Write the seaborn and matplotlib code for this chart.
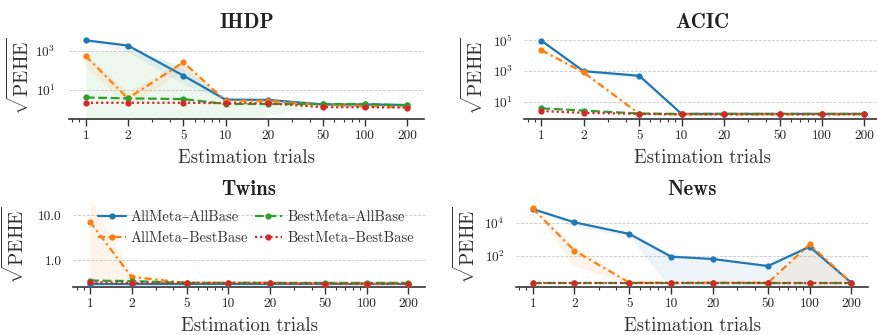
import numpy as np
import pandas as pd
import matplotlib
matplotlib.use("Agg")
import matplotlib.pyplot as plt
import seaborn as sns
from matplotlib.lines import Line2D
from matplotlib.ticker import LogLocator, NullFormatter, NullLocator

# ---------------- data ----------------
trials = [1, 2, 5, 10, 20, 50, 100, 200]
trial_labels = ["1", "2", "5", "10", "20", "50", "100", "200"]
methods = ["AllMeta–AllBase", "AllMeta–BestBase", "BestMeta–AllBase", "BestMeta–BestBase"]
datasets = ["IHDP", "ACIC", "Twins", "News"]

# IHDP
ihdp_all_all = [3500, 1900, 54, 3.2, 3.1, 1.8, 1.8, 1.7]
ihdp_all_best = [550, 3.7, 260, 2.8, 2.8, 1.7, 1.5, 1.3]
ihdp_best_all = [4.1, 3.7, 3.4, 1.9, 1.9, 1.9, 1.9, 1.6]
ihdp_best_best = [2.2, 2.2, 2.2, 2.1, 2.1, 1.3, 1.3, 1.25]
ihdp_all_all_lo = [3200, 900, 20, 2.9, 2.8, 1.6, 1.6, 1.5]
ihdp_all_all_hi = [3800, 2100, 120, 3.5, 3.5, 2.0, 2.0, 1.8]
ihdp_all_best_lo = [150, 1.5, 100, 2.5, 2.4, 1.4, 1.3, 1.1]
ihdp_all_best_hi = [700, 8, 350, 3.2, 3.2, 1.9, 1.7, 1.4]
ihdp_best_all_lo = [0.01, 0.01, 0.01, 0.01, 0.5, 1.6, 1.6, 1.4]
ihdp_best_all_hi = [950, 1000, 200, 3.0, 2.8, 2.1, 2.1, 1.8]

# ACIC
acic_all_all = [95000, 1000, 500, 1.7, 1.7, 1.7, 1.7, 1.7]
acic_all_best = [23000, 830, 1.7, 1.6, 1.6, 1.6, 1.6, 1.6]
acic_best_all = [3.9, 2.8, 1.8, 1.7, 1.7, 1.7, 1.7, 1.7]
acic_best_best = [2.6, 2.0, 1.7, 1.6, 1.6, 1.6, 1.6, 1.6]
acic_all_all_lo = [90000, 800, 300, 1.6, 1.6, 1.6, 1.6, 1.6]
acic_all_all_hi = [100000, 1100, 600, 1.8, 1.8, 1.8, 1.8, 1.8]
acic_all_best_lo = [18000, 650, 1.6, 1.5, 1.5, 1.5, 1.5, 1.5]
acic_all_best_hi = [30000, 1000, 1.8, 1.7, 1.7, 1.7, 1.7, 1.7]

# Twins
twins_all_all = [0.30, 0.30, 0.30, 0.30, 0.30, 0.30, 0.30, 0.30]
twins_all_best = [7.1, 0.42, 0.31, 0.31, 0.31, 0.30, 0.30, 0.30]
twins_best_all = [0.35, 0.34, 0.31, 0.31, 0.31, 0.31, 0.31, 0.31]
twins_best_best = [0.32, 0.31, 0.31, 0.31, 0.31, 0.30, 0.30, 0.30]
twins_all_best_lo = [0.01, 0.35, 0.30, 0.30, 0.30, 0.29, 0.29, 0.29]
twins_all_best_hi = [25, 0.5, 0.32, 0.32, 0.32, 0.31, 0.31, 0.31]

# News
news_all_all = [66000, 10500, 2100, 91, 66, 25, 360, 2.5]
news_all_best = [72000, 210, 2.5, 2.5, 2.5, 2.5, 500, 2.5]
news_best_all = [2.5, 2.5, 2.5, 2.5, 2.5, 2.5, 2.5, 2.5]
news_best_best = [2.5, 2.5, 2.5, 2.5, 2.5, 2.5, 2.5, 2.5]
news_all_all_lo = [60000, 5800, 1450, 1.0, 1.0, 1.0, 1.0, 2.3]
news_all_all_hi = [70000, 12000, 2500, 130, 75, 30, 500, 2.7]
news_all_best_lo = [65000, 23, 2.4, 2.4, 2.4, 2.4, 1.0, 2.4]
news_all_best_hi = [78000, 400, 2.6, 2.6, 2.6, 2.6, 600, 2.6]

series = {
    "IHDP": [ihdp_all_all, ihdp_all_best, ihdp_best_all, ihdp_best_best],
    "ACIC": [acic_all_all, acic_all_best, acic_best_all, acic_best_best],
    "Twins": [twins_all_all, twins_all_best, twins_best_all, twins_best_best],
    "News": [news_all_all, news_all_best, news_best_all, news_best_best],
}
bands = {
    "IHDP": {0: (ihdp_all_all_lo, ihdp_all_all_hi), 1: (ihdp_all_best_lo, ihdp_all_best_hi),
             2: (ihdp_best_all_lo, ihdp_best_all_hi)},
    "ACIC": {0: (acic_all_all_lo, acic_all_all_hi), 1: (acic_all_best_lo, acic_all_best_hi)},
    "Twins": {1: (twins_all_best_lo, twins_all_best_hi)},
    "News": {0: (news_all_all_lo, news_all_all_hi), 1: (news_all_best_lo, news_all_best_hi)},
}

# ---------------- style ----------------
sns.set_theme(style="ticks")
plt.rcParams["font.family"] = ["cmr10", "DejaVu Serif"]
plt.rcParams["mathtext.fontset"] = "cm"
plt.rcParams["axes.unicode_minus"] = False
plt.rcParams["axes.formatter.use_mathtext"] = True

colors = ["#1f77b4", "#ff7f0e", "#2ca02c", "#d62728"]
palette = dict(zip(methods, colors))
dash_map = dict(zip(methods, ["", (3.2, 1.6, 1, 1.6), (4, 1.6), (1, 1.3)]))
marker_map = {m: "o" for m in methods}

fig = plt.figure(figsize=(8.77, 3.35), dpi=100)
W, H = 877, 335
# left, top(px), width, height
layout = {
    "IHDP": (68.7, 33, 355.7, 86),
    "ACIC": (524.2, 33, 357, 86),
    "Twins": (73.1, 204, 352, 83),
    "News": (515.8, 204, 352.4, 83),
}
ylims = {
    "IHDP": (10 ** -0.49, 10 ** 3.92),
    "ACIC": (10 ** -0.1, 10 ** 5.47),
    "Twins": (10 ** -0.6, 10 ** 1.244),
    "News": (10 ** 0.14, 10 ** 5.12),
}
yticks = {
    "IHDP": ([10, 1000], [r"$10^{1}$", r"$10^{3}$"]),
    "ACIC": ([10, 1000, 1e5], [r"$10^{1}$", r"$10^{3}$", r"$10^{5}$"]),
    "Twins": ([1.0, 10.0], ["1.0", "10.0"]),
    "News": ([100, 1e4], [r"$10^{2}$", r"$10^{4}$"]),
}
ypads = {"IHDP": 9.5, "ACIC": 8, "Twins": 8, "News": 8}
ylabel_x = {"IHDP": -0.100, "ACIC": -0.104, "Twins": -0.128, "News": -0.105}
title_pad = {"IHDP": 3.7, "ACIC": 3.7, "Twins": 6.5, "News": 6.5}

for name in datasets:
    l, t, w, h = layout[name]
    ax = fig.add_axes([l / W, 1 - (t + h) / H, w / W, h / H])
    ax.set_xscale("log")
    ax.set_yscale("log")

    for i, (lo, hi) in bands[name].items():
        ax.fill_between(trials, lo, hi, color=colors[i], alpha=0.08, lw=0, zorder=1)

    df = pd.DataFrame({
        "trials": np.tile(trials, len(methods)),
        "value": np.concatenate(series[name]),
        "method": np.repeat(methods, len(trials)),
    })
    sns.lineplot(data=df, x="trials", y="value", hue="method", style="method",
                 hue_order=methods, style_order=methods, palette=palette,
                 dashes=dash_map, markers=marker_map, markersize=4.5, mew=0,
                 lw=1.6, legend=False, errorbar=None, ax=ax, zorder=3)

    ax.set_xlim(0.755, 265)
    ax.set_ylim(*ylims[name])
    ax.set_xticks(trials)
    ax.set_xticklabels(trial_labels)
    ax.xaxis.set_minor_locator(LogLocator(base=10, subs=np.arange(2, 10)))
    ax.xaxis.set_minor_formatter(NullFormatter())
    yt, yl = yticks[name]
    ax.set_yticks(yt)
    ax.set_yticklabels(yl)
    ax.yaxis.set_minor_locator(NullLocator())

    ax.tick_params(axis="x", which="major", length=5, width=1.0, color="#333333",
                   labelsize=9.6, pad=3, labelcolor="#222222")
    ax.tick_params(axis="x", which="minor", length=2.5, width=0.8, color="#333333")
    ax.tick_params(axis="y", which="major", length=0, labelsize=9.6, pad=ypads[name],
                   labelcolor="#222222")

    ax.yaxis.grid(True, which="major", ls="--", lw=0.6, color="#c8c8c8")
    ax.xaxis.grid(False)
    for s in ["left", "right", "top"]:
        ax.spines[s].set_visible(False)
    ax.spines["bottom"].set_color("#333333")
    ax.spines["bottom"].set_linewidth(1.2)

    ax.set_title(name, fontfamily="cmb10", fontsize=15, pad=title_pad[name], color="#222222")
    ax.set_xlabel("Estimation trials", fontsize=13.5, labelpad=5, color="#333333")
    ax.set_ylabel(r"$\sqrt{\mathrm{PEHE}}$", fontsize=14, color="#333333")
    ax.yaxis.set_label_coords(ylabel_x[name], 0.5)

    if name == "Twins":
        handles = [Line2D([], [], color=colors[i], marker="o", markersize=4.5, mew=0,
                          lw=1.6, ls=(0, dash_map[m]) if dash_map[m] else "-")
                   for i, m in enumerate(methods)]
        ax.legend(handles, methods, ncol=2, frameon=False, loc="upper right",
                  bbox_to_anchor=(0.985, 0.99), borderaxespad=0, fontsize=10.5,
                  handlelength=1.9, handletextpad=0.35, columnspacing=0.45,
                  labelspacing=0.5, labelcolor="#333333")

fig.savefig("out.png", dpi=100)
